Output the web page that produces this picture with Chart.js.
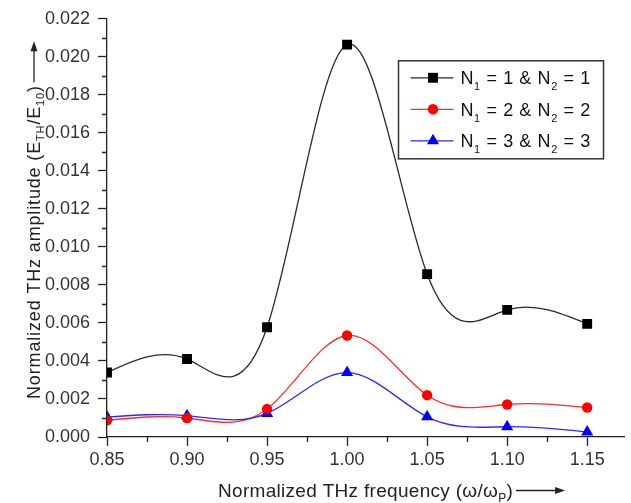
<!DOCTYPE html>
<html><head><meta charset="utf-8">
<script src="https://cdn.jsdelivr.net/npm/chart.js@4/dist/chart.umd.min.js"></script>
<style>html,body{margin:0;padding:0;background:#fff}#wrap{width:631px;height:503px;position:relative}canvas{display:block}</style>
</head><body><div id="wrap"><canvas id="c" width="631" height="503"></canvas></div>
<script>
// ---- data ----
const frequencies = [0.85, 0.90, 0.95, 1.00, 1.05, 1.10, 1.15];
const seriesN1 = [0.00339, 0.00410, 0.00577, 0.02064, 0.00857, 0.00669, 0.00595];
const seriesN2 = [0.00088, 0.00100, 0.00147, 0.00534, 0.00220, 0.00171, 0.00155];
const seriesN3 = [0.00105, 0.00112, 0.00124, 0.00339, 0.00106, 0.00054, 0.00026];
const seriesLabels = ['N_1 = 1 & N_2 = 1', 'N_1 = 2 & N_2 = 2', 'N_1 = 3 & N_2 = 3'];
const xTickValues = [0.85, 0.90, 0.95, 1.00, 1.05, 1.10, 1.15];
const xMinorTickValues = [0.875, 0.925, 0.975, 1.025, 1.075, 1.125];
const yTickValues = [0, 0.002, 0.004, 0.006, 0.008, 0.010, 0.012, 0.014, 0.016, 0.018, 0.020, 0.022];
const yMinorTickValues = [0.001, 0.003, 0.005, 0.007, 0.009, 0.011, 0.013, 0.015, 0.017, 0.019, 0.021];
const xTitle = 'Normalized THz frequency (\u03c9/\u03c9_P)';
const yTitle = 'Normalized THz amplitude (E_{TH}/E_{10})';

const FONT = '"Liberation Sans", Arial, sans-serif';
const TICK_FONT = '"Liberation Sans Narrow", "Arial Narrow", "Liberation Sans", sans-serif';

function toPoints(arr) { return frequencies.map((x, i) => ({ x: x, y: arr[i] })); }

// rich text with subscripts: parse "_X" or "_{XY}"
function parseRich(str) {
  const parts = [];
  let i = 0, buf = '';
  while (i < str.length) {
    if (str[i] === '_') {
      if (buf) { parts.push({ t: buf, sub: false }); buf = ''; }
      if (str[i + 1] === '{') {
        const j = str.indexOf('}', i);
        parts.push({ t: str.slice(i + 2, j), sub: true });
        i = j + 1;
      } else { parts.push({ t: str[i + 1], sub: true }); i += 2; }
    } else { buf += str[i]; i++; }
  }
  if (buf) parts.push({ t: buf, sub: false });
  return parts;
}
function drawRich(ctx, parts, x, y, size, subSize, spacing, subDrop) {
  parts.forEach(p => {
    ctx.font = (p.sub ? subSize : size) + 'px ' + FONT;
    ctx.letterSpacing = spacing + 'px';
    ctx.fillText(p.t, x, p.sub ? y + subDrop : y);
    x += ctx.measureText(p.t).width;
  });
  ctx.letterSpacing = '0px';
  return x;
}

function drawMarker(ctx, style, r, x, y, color) {
  ctx.save();
  ctx.fillStyle = color;
  ctx.beginPath();
  if (style === 'rect') {
    const s = Math.SQRT1_2 * r;
    ctx.rect(x - s, y - s, 2 * s, 2 * s);
  } else if (style === 'circle') {
    ctx.arc(x, y, r, 0, Math.PI * 2);
  } else if (style === 'triangle') {
    ctx.moveTo(x, y - r);
    ctx.lineTo(x + Math.cos(Math.PI / 6) * r, y + r / 2);
    ctx.lineTo(x - Math.cos(Math.PI / 6) * r, y + r / 2);
    ctx.closePath();
  }
  ctx.fill();
  ctx.restore();
}

// natural cubic spline through dataset points, drawn via the chart scales
const splinePlugin = {
  id: 'spline',
  beforeDatasetsDraw(chart) {
    const ctx = chart.ctx;
    const xs = chart.scales.x, ys = chart.scales.y;
    chart.data.datasets.forEach(ds => {
      const px = ds.data.map(p => xs.getPixelForValue(p.x));
      const py = ds.data.map(p => ys.getPixelForValue(p.y));
      const n = px.length - 1;
      const h = [];
      for (let i = 0; i < n; i++) h.push(px[i + 1] - px[i]);
      const a = [], b = [], c = [], d = [];
      for (let i = 1; i < n; i++) {
        a.push(h[i - 1]); b.push(2 * (h[i - 1] + h[i])); c.push(h[i]);
        d.push(6 * ((py[i + 1] - py[i]) / h[i] - (py[i] - py[i - 1]) / h[i - 1]));
      }
      const m = d.length;
      for (let i = 1; i < m; i++) {
        const w = a[i] / b[i - 1];
        b[i] -= w * c[i - 1]; d[i] -= w * d[i - 1];
      }
      const Min = new Array(m);
      for (let i = m - 1; i >= 0; i--) Min[i] = (d[i] - (i < m - 1 ? c[i] * Min[i + 1] : 0)) / b[i];
      const M = [0].concat(Min, [0]);
      const der = [];
      for (let i = 0; i < n; i++) der.push((py[i + 1] - py[i]) / h[i] - h[i] * (2 * M[i] + M[i + 1]) / 6);
      der.push((py[n] - py[n - 1]) / h[n - 1] + h[n - 1] * (M[n - 1] + 2 * M[n]) / 6);
      ctx.save();
      ctx.strokeStyle = ds.splineColor;
      ctx.lineWidth = 1.3;
      ctx.beginPath();
      ctx.moveTo(px[0], py[0]);
      for (let i = 0; i < n; i++) {
        const t = h[i] / 3;
        ctx.bezierCurveTo(px[i] + t, py[i] + t * der[i], px[i + 1] - t, py[i + 1] - t * der[i + 1], px[i + 1], py[i + 1]);
      }
      ctx.stroke();
      ctx.restore();
    });
  }
};

const decorPlugin = {
  id: 'decor',
  afterDraw(chart) {
    const ctx = chart.ctx;
    const xs = chart.scales.x, ys = chart.scales.y;
    const ca = chart.chartArea;
    ctx.save();
    // minor ticks
    ctx.strokeStyle = '#222';
    ctx.lineWidth = 1.3;
    ctx.beginPath();
    xMinorTickValues.forEach(v => { const p = Math.round(xs.getPixelForValue(v)) + 0.5; ctx.moveTo(p, ca.bottom); ctx.lineTo(p, ca.bottom + 5); });
    yMinorTickValues.forEach(v => { const p = Math.round(ys.getPixelForValue(v)) + 0.5; ctx.moveTo(ca.left, p); ctx.lineTo(ca.left - 5, p); });
    ctx.stroke();

    ctx.fillStyle = '#222';
    ctx.strokeStyle = '#222';
    ctx.textBaseline = 'alphabetic';
    ctx.textAlign = 'left';
    // x title
    const xp = parseRich(xTitle);
    const xEnd = drawRich(ctx, xp, 218, 497, 19, 12, 0.3, 5);
    ctx.lineWidth = 1.3;
    ctx.beginPath(); ctx.moveTo(xEnd + 3, 490.5); ctx.lineTo(xEnd + 44, 490.5); ctx.stroke();
    ctx.beginPath(); ctx.moveTo(xEnd + 52, 490.5); ctx.lineTo(xEnd + 42, 487); ctx.lineTo(xEnd + 42, 494); ctx.closePath(); ctx.fill();
    // y title
    ctx.save();
    ctx.translate(40, 399);
    ctx.rotate(-Math.PI / 2);
    const yp = parseRich(yTitle);
    const yEnd = drawRich(ctx, yp, 0, 0, 18, 11, 0.85, 4);
    ctx.beginPath(); ctx.moveTo(yEnd + 3, -6); ctx.lineTo(yEnd + 36, -6); ctx.stroke();
    ctx.beginPath(); ctx.moveTo(yEnd + 44, -6); ctx.lineTo(yEnd + 34, -9.5); ctx.lineTo(yEnd + 34, -2.5); ctx.closePath(); ctx.fill();
    ctx.restore();

    // legend
    const bx = ca.right - 225.5, by = ca.top + 42, bw = 205, bh = 98;
    ctx.lineWidth = 1.5;
    ctx.strokeStyle = '#333';
    ctx.strokeRect(bx, by, bw, bh);
    chart.data.datasets.forEach((ds, i) => {
      const cy = by + 17 + i * 31.5;
      ctx.strokeStyle = ds.splineColor;
      ctx.lineWidth = 1.3;
      ctx.beginPath(); ctx.moveTo(bx + 12, cy); ctx.lineTo(bx + 55, cy); ctx.stroke();
      drawMarker(ctx, ds.pointStyle, ds.pointRadius, bx + 34.5, cy, ds.backgroundColor);
      ctx.fillStyle = '#111';
      drawRich(ctx, parseRich(ds.label), bx + 62, cy + 6.5, 18, 11, 0.6, 6);
    });
    ctx.restore();
  }
};

const tickFont = { family: TICK_FONT, size: 18 };

new Chart(document.getElementById('c'), {
  type: 'scatter',
  data: {
    datasets: [
      { label: seriesLabels[0], data: toPoints(seriesN1), pointStyle: 'rect', pointRadius: 7, backgroundColor: '#000', borderColor: '#000', borderWidth: 0, splineColor: '#2a2a2a', showLine: false },
      { label: seriesLabels[1], data: toPoints(seriesN2), pointStyle: 'circle', pointRadius: 5.2, backgroundColor: '#ff0000', borderColor: '#ff0000', borderWidth: 0, splineColor: '#ff2a2a', showLine: false },
      { label: seriesLabels[2], data: toPoints(seriesN3), pointStyle: 'triangle', pointRadius: 7, backgroundColor: '#0000ff', borderColor: '#0000ff', borderWidth: 0, splineColor: '#2a2aff', showLine: false }
    ]
  },
  options: {
    responsive: false,
    animation: false,
    devicePixelRatio: 1,
    layout: { padding: { top: 17, right: 2, left: 0, bottom: 0 } },
    plugins: { legend: { display: false }, tooltip: { enabled: false } },
    elements: { point: { hoverRadius: 7 } },
    scales: {
      x: {
        type: 'linear', min: 0.85, max: 1.173,
        afterBuildTicks: s => { s.ticks = xTickValues.map(v => ({ value: v })); },
        afterFit: s => { s.height = 66; },
        ticks: { callback: v => v.toFixed(2), font: tickFont, color: '#333', padding: 3, maxRotation: 0, autoSkip: false },
        grid: { drawOnChartArea: false, drawTicks: true, tickLength: 9, tickColor: '#222', tickWidth: 1.3 },
        border: { display: true, color: '#222', width: 1.3 }
      },
      y: {
        type: 'linear', min: 0, max: 0.022,
        afterBuildTicks: s => { s.ticks = yTickValues.map(v => ({ value: v })); },
        afterFit: s => { s.width = 107; },
        ticks: { callback: v => v.toFixed(3), font: tickFont, color: '#333', padding: 8, autoSkip: false },
        grid: { drawOnChartArea: false, drawTicks: true, tickLength: 9, tickColor: '#222', tickWidth: 1.3 },
        border: { display: true, color: '#222', width: 1.3 }
      }
    }
  },
  plugins: [splinePlugin, decorPlugin]
});
</script></body></html>
